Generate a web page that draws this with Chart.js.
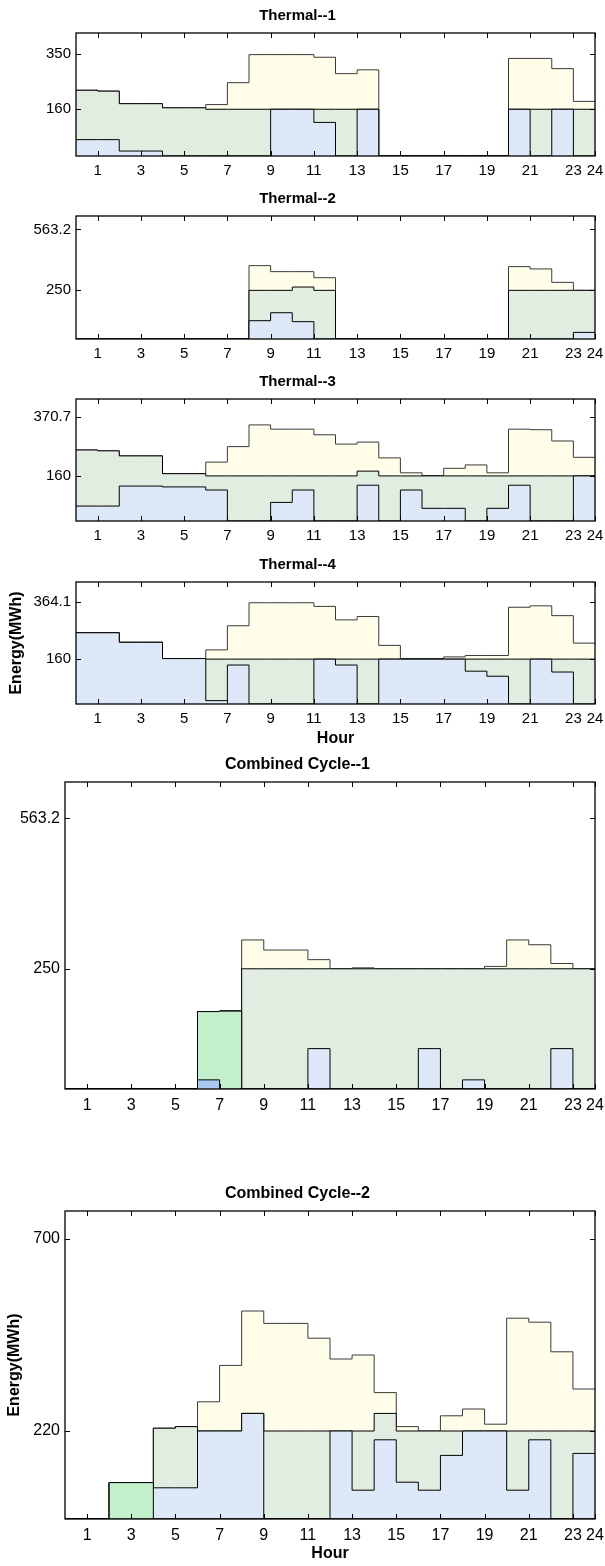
<!DOCTYPE html>
<html><head><meta charset="utf-8">
<script src="https://cdn.jsdelivr.net/npm/chart.js@4.4.1/dist/chart.umd.min.js"></script>
<style>
html,body{margin:0;padding:0;background:#fff;}
body{width:605px;height:1566px;position:relative;overflow:hidden;}
canvas{position:absolute;left:0;}
</style></head><body>
<canvas id="c0"></canvas><canvas id="c1"></canvas><canvas id="c2"></canvas>
<canvas id="c3"></canvas><canvas id="c4"></canvas><canvas id="c5"></canvas>
<script>
// ---------- data ----------
const hours = [1,2,3,4,5,6,7,8,9,10,11,12,13,14,15,16,17,18,19,20,21,22,23,24];
const xTickValues = [1,3,5,7,9,11,13,15,17,19,21,23,24];

const t1YTicks = [160, 350];
const t1Blue = [56,56,17,17,0,0,0,0,0,160,160,115,0,160,0,0,0,0,0,0,160,0,160,0];
const t1Mid  = [169,166,162,162,165,165,160,160,160,0,0,45,160,0,0,0,0,0,0,0,0,160,0,160];
const t1Peak = [0,0,0,0,0,0,16,91,187,187,187,178,122,135,0,0,0,0,0,0,174,174,139,27];

const t2YTicks = [250, 563.2];
const t2Blue = [0,0,0,0,0,0,0,0,94,135,89,0,0,0,0,0,0,0,0,0,0,0,0,34];
const t2Mid  = [0,0,0,0,0,0,0,0,156,115,178,250,0,0,0,0,0,0,0,0,250,250,250,216];
const t2Peak = [0,0,0,0,0,0,0,0,127,96,79,65,0,0,0,0,0,0,0,0,122,110,41,0];

const t3YTicks = [160, 370.7];
const t3Blue = [53,53,124,124,121,121,110,0,0,66,110,0,0,127,0,110,45,45,0,45,127,0,0,160];
const t3Mid  = [199,196,107,107,47,47,50,160,160,94,50,160,160,50,160,50,115,115,160,115,33,160,160,0];
const t3Peak = [0,0,0,0,0,0,49,104,181,166,166,146,113,103,64,11,1,27,39,11,166,164,124,66];

const t4YTicks = [160, 364.1];
const t4Blue = [254,254,220,220,162,162,12,139,0,0,0,160,139,0,160,160,160,160,117,99,0,160,114,0];
const t4Mid  = [0,0,0,0,0,0,148,21,160,160,160,0,21,160,0,0,0,0,43,61,160,0,46,160];
const t4Peak = [0,0,0,0,0,0,33,119,201,201,201,188,140,152,49,2,2,8,13,13,185,190,155,57];

const cc1YTicks = [250, 563.2];
const cc1Dark  = [0,0,0,0,0,0,19,0,0,0,0,0,0,0,0,0,0,0,0,0,0,0,0,0];
const cc1Start = [0,0,0,0,0,0,142,162,0,0,0,0,0,0,0,0,0,0,0,0,0,0,0,0];
const cc1Blue  = [0,0,0,0,0,0,0,0,0,0,0,84,0,0,0,0,84,0,19,0,0,0,84,0];
const cc1Mid   = [0,0,0,0,0,0,0,0,250,250,250,166,250,250,250,250,166,250,231,250,250,250,166,250];
const cc1Peak  = [0,0,0,0,0,0,0,0,60,39,39,19,0,2,0,0,0,0,0,5,60,50,11,0];

const cc2YTicks = [220, 700];
const cc2Dark  = [0,0,0,0,0,0,0,0,0,0,0,0,0,0,0,0,0,0,0,0,0,0,0,0];
const cc2Start = [0,0,91,91,0,0,0,0,0,0,0,0,0,0,0,0,0,0,0,0,0,0,0,0];
const cc2Blue  = [0,0,0,0,78,78,220,220,264,0,0,0,220,72,198,92,72,159,220,220,72,198,0,164];
const cc2Mid   = [0,0,0,0,149,153,0,0,0,220,220,220,0,148,66,128,148,61,0,0,148,22,220,56];
const cc2Peak  = [0,0,0,0,0,0,73,164,256,269,269,232,180,190,52,11,0,38,55,17,282,272,198,105];

// ---------- styles / layout ----------
const FONT = "'Liberation Sans', Arial, Helvetica, sans-serif";
const COL = {dark:'#a9c9f1', start:'#c2efcc', blue:'#dde9f8', mid:'#e2ede2', peak:'#fefeeb'};

const panels = [
  {id:'c0', title:'Thermal--1', top:33, bottom:156, left:76, right:595, yMax:421, yTicks:t1YTicks,
   series:[['blue',t1Blue],['mid',t1Mid],['peak',t1Peak]], fs:15, yTitle:false, xTitle:false},
  {id:'c1', title:'Thermal--2', top:216, bottom:339, left:76, right:595, yMax:632, yTicks:t2YTicks,
   series:[['blue',t2Blue],['mid',t2Mid],['peak',t2Peak]], fs:15, yTitle:false, xTitle:false},
  {id:'c2', title:'Thermal--3', top:399, bottom:521, left:76, right:595, yMax:433, yTicks:t3YTicks,
   series:[['blue',t3Blue],['mid',t3Mid],['peak',t3Peak]], fs:15, yTitle:false, xTitle:false},
  {id:'c3', title:'Thermal--4', top:582, bottom:704, left:76, right:595, yMax:435, yTicks:t4YTicks,
   series:[['blue',t4Blue],['mid',t4Mid],['peak',t4Peak]], fs:15, yTitle:true, xTitle:true},
  {id:'c4', title:'Combined Cycle--1', top:782, bottom:1089, left:65, right:595, yMax:638.5, yTicks:cc1YTicks,
   series:[['dark',cc1Dark],['start',cc1Start],['blue',cc1Blue],['mid',cc1Mid],['peak',cc1Peak]], fs:16, yTitle:false, xTitle:false},
  {id:'c5', title:'Combined Cycle--2', top:1211, bottom:1519, left:65, right:595, yMax:770, yTicks:cc2YTicks,
   series:[['dark',cc2Dark],['start',cc2Start],['blue',cc2Blue],['mid',cc2Mid],['peak',cc2Peak]], fs:16, yTitle:true, xTitle:true}
];

const framePlugin = {
  id:'frame',
  afterDatasetsDraw(chart, args, opts){
    const {ctx, chartArea:a, scales:{x, y}} = chart;
    ctx.save();
    ctx.strokeStyle = '#000';
    ctx.lineWidth = 1;
    ctx.beginPath();
    for (const v of opts.xTicks) {
      const px = Math.round(x.getPixelForValue(v)) + 0.5;
      ctx.moveTo(px, a.bottom); ctx.lineTo(px, a.bottom - 5);
      ctx.moveTo(px, a.top); ctx.lineTo(px, a.top + 5);
    }
    for (const v of opts.yTicks) {
      const py = Math.round(y.getPixelForValue(v)) + 0.5;
      ctx.moveTo(a.left, py); ctx.lineTo(a.left + 5, py);
      ctx.moveTo(a.right, py); ctx.lineTo(a.right - 5, py);
    }
    ctx.stroke();
    ctx.lineWidth = 1.3;
    ctx.strokeRect(a.left, a.top, a.right - a.left, a.bottom - a.top);
    ctx.restore();
  }
};

const TOP_SPACE = 34, X_AXIS_H = 44;

panels.forEach(p => {
  const cv = document.getElementById(p.id);
  const h = p.bottom - p.top + TOP_SPACE + X_AXIS_H;
  cv.width = 605; cv.height = h;
  cv.style.width = '605px'; cv.style.height = h + 'px';
  cv.style.top = (p.top - TOP_SPACE) + 'px';
  const lh = p.fs * 1.2;
  const padTop = TOP_SPACE / 2 - lh / 2;

  const datasets = p.series.map(([key, vals], i) => ({
    label: key,
    data: vals.map((v, k) => ({x: k, y: v})).concat([{x: 24, y: vals[vals.length - 1]}]),
    stepped: true,
    fill: i === 0 ? 'origin' : '-1',
    backgroundColor: COL[key],
    borderColor: key === 'peak' ? '#3a3a3a' : '#000',
    borderWidth: 1,
    pointRadius: 0,
    tension: 0
  }));

  new Chart(cv, {
    type: 'line',
    data: {datasets},
    plugins: [framePlugin],
    options: {
      responsive: false, animation: false, devicePixelRatio: 1,
      events: [],
      layout: {padding: {left: 0, right: 605 - p.right, top: 0, bottom: 0}},
      plugins: {
        legend: {display: false}, tooltip: {enabled: false},
        title: {display: true, text: p.title, color: '#000',
          font: {family: FONT, size: p.fs, weight: 'bold'},
          padding: {top: padTop, bottom: TOP_SPACE - lh - padTop}},
        frame: {xTicks: xTickValues, yTicks: p.yTicks}
      },
      scales: {
        x: {
          type: 'linear', min: 0, max: 24,
          grid: {display: false, drawTicks: false}, border: {display: false},
          ticks: {autoSkip: false, maxRotation: 0, padding: p.fs === 15 ? 6 : 7, color: '#000',
            font: {family: FONT, size: p.fs}, callback: v => String(v)},
          afterBuildTicks: s => { s.ticks = xTickValues.map(v => ({value: v})); },
          afterFit: s => { s.height = X_AXIS_H; s.paddingLeft = 0; s.paddingRight = 0; },
          title: {display: p.xTitle, text: 'Hour', color: '#000',
            font: {family: FONT, size: 16, weight: 'bold'}, padding: {top: 0, bottom: 0}}
        },
        y: {
          type: 'linear', stacked: true, min: 0, max: p.yMax,
          grid: {display: false, drawTicks: false}, border: {display: false},
          ticks: {padding: 5, color: '#000', font: {family: FONT, size: p.fs}, callback: v => String(v)},
          afterBuildTicks: s => { s.ticks = p.yTicks.map(v => ({value: v})); },
          afterFit: s => { s.width = p.left; s.paddingTop = 0; s.paddingBottom = 0; },
          title: {display: p.yTitle, text: 'Energy(MWh)', color: '#000',
            font: {family: FONT, size: 16, weight: 'bold'}, padding: {top: p.fs === 15 ? 7 : 5, bottom: 0}}
        }
      }
    }
  });
});
</script>
</body></html>
